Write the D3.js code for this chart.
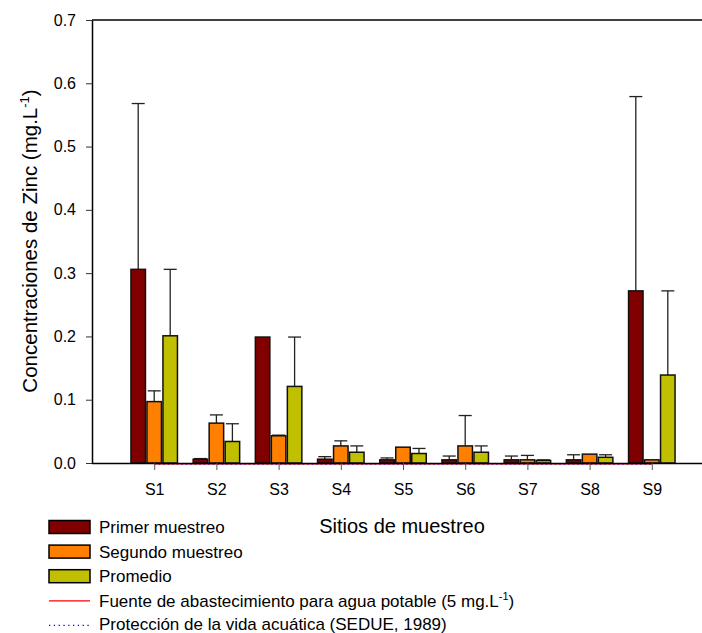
<!DOCTYPE html>
<html lang="en">
<head>
    <meta charset="UTF-8">
    <title>Zinc</title>
    <script src="https://d3js.org/d3.v7.min.js"></script>
    <style>
        body { margin: 0; background: #fff; }
        svg { font-family: "Liberation Sans", Arial, sans-serif; }
    </style>
</head>
<body>
    <svg width="702" height="633"></svg>
    <script>
        // sites and values
        const sites = ["S1", "S2", "S3", "S4", "S5", "S6", "S7", "S8", "S9"];
        const primer = [0.306, 0.006, 0.199, 0.006, 0.005, 0.005, 0.005, 0.005, 0.272];
        const primerErr = [0.262, 0.001, 0.0, 0.004, 0.003, 0.006, 0.006, 0.008, 0.307];
        const segundo = [0.097, 0.063, 0.043, 0.027, 0.025, 0.027, 0.005, 0.014, 0.005];
        const segundoErr = [0.017, 0.013, 0.001, 0.008, 0.0, 0.048, 0.007, 0.0, 0.0];
        const promedio = [0.201, 0.034, 0.121, 0.017, 0.015, 0.017, 0.004, 0.009, 0.139];
        const promedioErr = [0.105, 0.028, 0.078, 0.010, 0.008, 0.010, 0.001, 0.004, 0.133];
        const yTicks = [0.0, 0.1, 0.2, 0.3, 0.4, 0.5, 0.6, 0.7];
        const limitAgua = 0;   // drawn along the base line in the original
        const limitVida = 0;

        const series = [
            {name: "Primer muestreo", values: primer, err: primerErr, color: "#800000"},
            {name: "Segundo muestreo", values: segundo, err: segundoErr, color: "#ff8000"},
            {name: "Promedio", values: promedio, err: promedioErr, color: "#c0c000"}
        ];

        const plotL = 92, plotR = 714, plotT = 20, plotB = 463;
        const svg = d3.select("svg");

        const x = d3.scalePoint().domain(sites).range([plotL, plotR]).padding(1);
        const x1 = d3.scaleBand().domain(series.map(s => s.name)).range([-24, 24]);
        const y = d3.scaleLinear().domain([0, 0.7]).range([plotB, plotT]);

        // frame top line
        svg.append("line")
           .attr("x1", plotL).attr("x2", 702).attr("y1", plotT).attr("y2", plotT)
           .attr("stroke", "#000").attr("stroke-width", 1.5);

        // bars + error bars
        series.forEach(s => {
            const g = svg.append("g");
            sites.forEach((site, i) => {
                const cx = x(site) + x1(s.name);
                const v = s.values[i];
                const e = s.err[i];
                if (e > 0) {
                    const mid = cx + x1.bandwidth() / 2;
                    g.append("line")
                     .attr("x1", mid).attr("x2", mid)
                     .attr("y1", y(v)).attr("y2", y(v + e))
                     .attr("stroke", "#222").attr("stroke-width", 1.3);
                    g.append("line")
                     .attr("x1", mid - 6.5).attr("x2", mid + 6.5)
                     .attr("y1", y(v + e)).attr("y2", y(v + e))
                     .attr("stroke", "#222").attr("stroke-width", 1.3);
                }
                g.append("rect")
                 .attr("x", cx + 0.75)
                 .attr("y", y(v))
                 .attr("width", x1.bandwidth() - 1.5)
                 .attr("height", y(0) - y(v))
                 .attr("fill", s.color)
                 .attr("stroke", "#111")
                 .attr("stroke-width", 1.5);
            });
        });

        // reference lines
        svg.append("line")
           .attr("x1", x("S1")).attr("x2", x("S9"))
           .attr("y1", y(limitAgua) + 0.8).attr("y2", y(limitAgua) + 0.8)
           .attr("stroke", "#ff0000").attr("stroke-width", 1.2);
        svg.append("line")
           .attr("x1", x("S1")).attr("x2", x("S9"))
           .attr("y1", y(limitVida) + 0.8).attr("y2", y(limitVida) + 0.8)
           .attr("stroke", "#0000ff").attr("stroke-width", 1.2)
           .attr("stroke-dasharray", "1.5,3");

        // axes
        const yAxis = svg.append("g")
           .attr("transform", `translate(${plotL},0)`)
           .call(d3.axisLeft(y).tickValues(yTicks).tickFormat(d3.format(".1f")).tickSizeInner(6).tickSizeOuter(0).tickPadding(10));
        yAxis.select(".domain").attr("stroke", "#000").attr("stroke-width", 1.5);
        yAxis.selectAll(".tick line").attr("stroke", "#333");
        yAxis.selectAll("text").attr("font-size", 16).attr("fill", "#000")
             .attr("font-family", "Liberation Sans, Arial, sans-serif");

        const xAxis = svg.append("g")
           .attr("transform", `translate(0,${plotB})`)
           .call(d3.axisBottom(x).tickSizeInner(7).tickSizeOuter(0).tickPadding(14));
        xAxis.select(".domain").attr("stroke", "#000").attr("stroke-width", 1.5)
             .attr("d", `M${plotL},0.5H${plotR}`);
        xAxis.selectAll(".tick line").attr("stroke", "#555");
        xAxis.selectAll("text").attr("font-size", 16).attr("fill", "#000")
             .attr("font-family", "Liberation Sans, Arial, sans-serif");

        // axis titles
        const yt = svg.append("text")
           .attr("transform", "translate(37,241) rotate(-90)")
           .attr("text-anchor", "middle")
           .attr("font-size", 20.5);
        yt.append("tspan").text("Concentraciones de Zinc (mg.L");
        yt.append("tspan").attr("dy", -8).attr("font-size", 13).text("-1");
        yt.append("tspan").attr("dy", 8).text(")");

        svg.append("text")
           .attr("x", 402).attr("y", 533)
           .attr("text-anchor", "middle")
           .attr("font-size", 20)
           .text("Sitios de muestreo");

        // legend
        const legY = 527, legStep = 24.6;
        series.forEach((s, i) => {
            svg.append("rect")
               .attr("x", 49).attr("y", legY + i * legStep - 6.5)
               .attr("width", 41).attr("height", 13)
               .attr("fill", s.color).attr("stroke", "#000").attr("stroke-width", 1.5);
            svg.append("text")
               .attr("x", 99).attr("y", legY + i * legStep + 6)
               .attr("font-size", 17).text(s.name);
        });
        svg.append("line")
           .attr("x1", 49).attr("x2", 90)
           .attr("y1", legY + 3 * legStep).attr("y2", legY + 3 * legStep)
           .attr("stroke", "#ff0000").attr("stroke-width", 1.2);
        const t4 = svg.append("text")
           .attr("x", 99).attr("y", legY + 3 * legStep + 6).attr("font-size", 17);
        t4.append("tspan").text("Fuente de abastecimiento para agua potable (5 mg.L");
        t4.append("tspan").attr("dy", -7).attr("font-size", 11).text("-1");
        t4.append("tspan").attr("dy", 7).text(")");
        svg.append("line")
           .attr("x1", 49).attr("x2", 90)
           .attr("y1", legY + 4 * legStep).attr("y2", legY + 4 * legStep)
           .attr("stroke", "#0000ff").attr("stroke-width", 1.3)
           .attr("stroke-dasharray", "1.3,3.5");
        svg.append("text")
           .attr("x", 99).attr("y", legY + 4 * legStep + 5)
           .attr("font-size", 17).text("Protección de la vida acuática (SEDUE, 1989)");
    </script>
</body>
</html>
